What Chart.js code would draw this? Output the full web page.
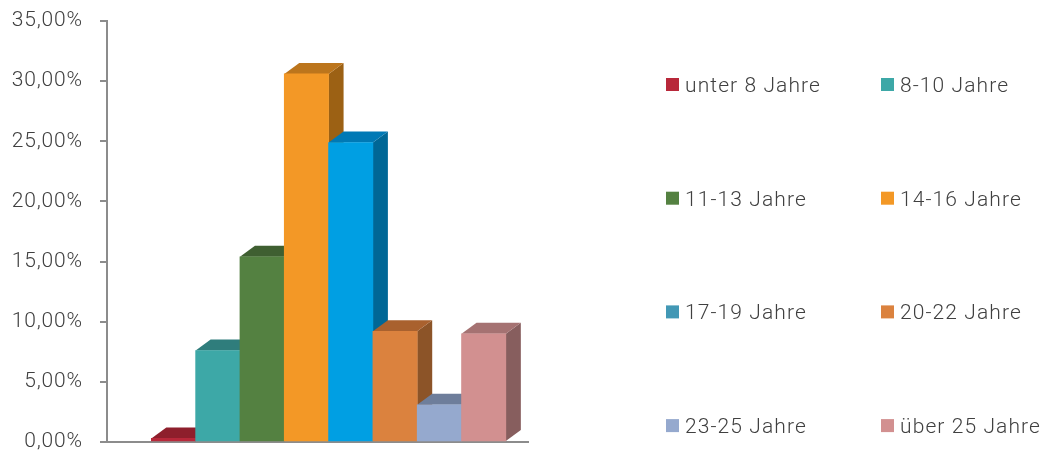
<!DOCTYPE html>
<html>
<head>
<meta charset="utf-8">
<script src="https://cdn.jsdelivr.net/npm/chart.js@4/dist/chart.umd.min.js"></script>
<style>
  html, body { margin: 0; padding: 0; background: #fff; }
  #wrap { width: 1052px; height: 454px; }
</style>
</head>
<body>
<div id="wrap"><canvas id="chart"></canvas></div>
<script>
// data (share of respondents, in percent)
const categories = ["unter 8 Jahre", "8-10 Jahre", "11-13 Jahre", "14-16 Jahre",
                    "17-19 Jahre", "20-22 Jahre", "23-25 Jahre", "über 25 Jahre"];
const shares = [0.3, 7.6, 15.4, 30.6, 24.9, 9.2, 3.1, 9.0];
const yTicks = [0, 5, 10, 15, 20, 25, 30, 35];

const frontColors  = ["#b8283a", "#3da8a7", "#548141", "#f39826", "#009fe3", "#db823e", "#95a9ce", "#d29090"];
const topColors    = ["#8e1f2c", "#2f7d7c", "#3f5f31", "#bc751c", "#0079b5", "#a9612e", "#6e7e9b", "#a57272"];
const sideColors   = ["#701822", "#276a69", "#344f29", "#9c6114", "#006796", "#8c5428", "#5f6d86", "#875e5e"];
const legendColors = ["#b8283a", "#3da8a7", "#548141", "#f39826", "#4298b5", "#db823e", "#95a9ce", "#d29090"];

const FONT = "Roboto";
const textColor = "#404040";
const axisGrey = "#8c8c8c";

// excel draws the text a bit wider than the canvas does
const spacing = {
  id: "spacing",
  beforeLayout(chart) { chart.ctx.letterSpacing = "0.8px"; },
  beforeDraw(chart) { chart.ctx.letterSpacing = "0.8px"; }
};

// side + top faces so the columns look like the excel 3d ones
const depth3d = {
  id: "depth3d",
  beforeDatasetsDraw(chart) {
    const ctx = chart.ctx;
    const dx = 15, dy = 11;
    chart.getDatasetMeta(0).data.forEach((bar, i) => {
      const p = bar.getProps(["x", "y", "base", "width"], true);
      const l = p.x - p.width / 2, r = p.x + p.width / 2;
      ctx.save();
      ctx.fillStyle = sideColors[i];
      ctx.beginPath();
      ctx.moveTo(r, p.y);
      ctx.lineTo(r + dx, p.y - dy);
      ctx.lineTo(r + dx, p.base - dy);
      ctx.lineTo(r, p.base);
      ctx.closePath();
      ctx.fill();
      ctx.fillStyle = topColors[i];
      ctx.beginPath();
      ctx.moveTo(l, p.y);
      ctx.lineTo(l + dx, p.y - dy);
      ctx.lineTo(r + dx, p.y - dy);
      ctx.lineTo(r, p.y);
      ctx.closePath();
      ctx.fill();
      ctx.restore();
    });
  }
};

// two column legend on the right, row by row
const gridLegend = {
  id: "gridLegend",
  afterDraw(chart) {
    const ctx = chart.ctx;
    const colX = [666, 881], rowY = 84.5, rowGap = 113.7, box = 13;
    ctx.save();
    ctx.font = "300 21px " + FONT;
    ctx.letterSpacing = "1.1px";
    ctx.textBaseline = "alphabetic";
    ctx.textAlign = "left";
    categories.forEach((c, i) => {
      const x = colX[i % 2];
      const y = rowY + Math.floor(i / 2) * rowGap;
      ctx.fillStyle = legendColors[i];
      ctx.fillRect(x, y - box / 2, box, box);
      ctx.fillStyle = textColor;
      ctx.fillText(c, x + 19, y + 7.5);
    });
    ctx.restore();
  }
};

new Chart(document.getElementById("chart"), {
  type: "bar",
  data: {
    datasets: [{
      data: shares.map((v, i) => ({ x: i + 1, y: v })),
      backgroundColor: frontColors,
      borderWidth: 0,
      barPercentage: 1,
      categoryPercentage: 1
    }]
  },
  options: {
    responsive: true,
    maintainAspectRatio: false,
    animation: false,
    layout: { padding: { left: 0, right: 524, top: 21, bottom: 12 } },
    plugins: { legend: { display: false }, tooltip: { enabled: false } },
    scales: {
      x: {
        type: "linear",
        min: -0.5,
        max: 9,
        offset: false,
        ticks: { display: false },
        grid: { display: false },
        border: { color: axisGrey, width: 2 },
        afterBuildTicks(s) { s.ticks = categories.map((c, i) => ({ value: i + 1 })); },
        afterFit(s) { s.height = 0; }
      },
      y: {
        min: 0,
        max: 35,
        afterBuildTicks(s) { s.ticks = yTicks.map(v => ({ value: v })); },
        ticks: {
          padding: 17.2,
          color: textColor,
          font: { family: FONT, size: 21, weight: 300 },
          callback: v => v.toFixed(2).replace(".", ",") + "%"
        },
        grid: { drawOnChartArea: false, drawTicks: true, tickLength: 7, color: axisGrey, lineWidth: 2 },
        border: { color: axisGrey, width: 2 },
        afterFit(s) { s.width = 107; s.paddingTop = 0; s.paddingBottom = 0; }
      }
    }
  },
  plugins: [spacing, depth3d, gridLegend]
});
</script>
</body>
</html>
